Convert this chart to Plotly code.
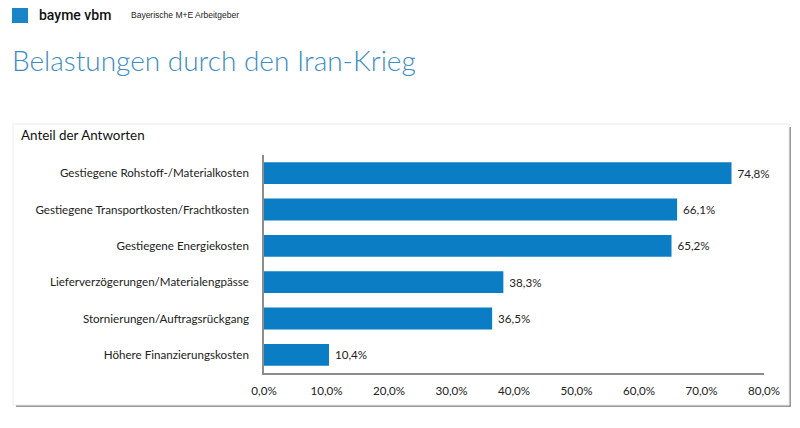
import plotly.graph_objects as go

categories = [
    "Gestiegene Rohstoff-/Materialkosten",
    "Gestiegene Transportkosten/Frachtkosten",
    "Gestiegene Energiekosten",
    "Lieferverzögerungen/Materialengpässe",
    "Stornierungen/Auftragsrückgang",
    "Höhere Finanzierungskosten",
]
values = [74.8, 66.1, 65.2, 38.3, 36.5, 10.4]
tick_values = [0, 10, 20, 30, 40, 50, 60, 70, 80]
tick_labels = [f"{v:.1f}%".replace(".", ",") for v in tick_values]

W, H = 800, 428
L, R, T, B = 264, 36, 155, 55
PW, PH = W - L - R, H - T - B

def px(x):
    return (x - L) / PW

def py(y):
    return (H - B - y) / PH

BAR = "#0b7dc5"
FONT = "Lato"

fig = go.Figure(go.Bar(
    x=values, y=categories, orientation="h",
    marker=dict(color=BAR, line=dict(width=0)),
    text=values, texttemplate=" %{x:.1f}%", textposition="outside",
    textfont=dict(family=FONT, size=11.6, color="#222"),
    cliponaxis=False,
))

shapes = [
    # shadow
    dict(type="rect", xref="paper", yref="paper", x0=px(16), x1=px(791), y0=py(127), y1=py(407),
         fillcolor="#9a9a9a", line=dict(width=0), layer="below"),
    dict(type="rect", xref="paper", yref="paper", x0=px(13), x1=px(789), y0=py(124), y1=py(405),
         fillcolor="white", line=dict(color="#ececec", width=1), layer="below"),
    # logo square
    dict(type="rect", xref="paper", yref="paper", x0=px(12), x1=px(28), y0=py(8), y1=py(23),
         fillcolor="#1a86c8", line=dict(width=0)),
]

annotations = [
    dict(text="bayme vbm", x=px(37), y=py(15), xref="paper", yref="paper", xanchor="left", yanchor="middle",
         showarrow=False, font=dict(family="Roboto", size=14, color="#111", weight=500)),
    dict(text="Bayerische M+E Arbeitgeber", x=px(129), y=py(15), xref="paper", yref="paper", xanchor="left",
         yanchor="middle", showarrow=False, font=dict(family="Liberation Sans", size=8.5, color="#222")),
    dict(text="Belastungen durch den Iran-Krieg", x=px(10), y=py(60), xref="paper", yref="paper",
         xanchor="left", yanchor="middle", showarrow=False,
         font=dict(family=FONT, size=28, color="#3d8dc2", weight=300)),
    dict(text="Anteil der Antworten", x=px(19), y=py(135), xref="paper", yref="paper", xanchor="left",
         yanchor="middle", showarrow=False, font=dict(family=FONT, size=13.4, color="#111")),
]

fig.update_layout(
    width=W, height=H,
    margin=dict(l=L, r=R, t=T, b=B, pad=0),
    paper_bgcolor="white", plot_bgcolor="white",
    separators=",.",
    showlegend=False,
    bargap=0.4,
    shapes=shapes,
    annotations=annotations,
    xaxis=dict(range=[0, 80], tickvals=tick_values, ticktext=tick_labels,
               showgrid=False, zeroline=False, showline=True, linecolor="#8c8c8c", linewidth=1.5,
               ticks="", tickfont=dict(family=FONT, size=11.6, color="#222"), ticklabelstandoff=6,
               fixedrange=True),
    yaxis=dict(autorange="reversed", showgrid=False, zeroline=False, showline=True,
               linecolor="#8c8c8c", linewidth=1.5, ticks="", ticklabelstandoff=11,
               tickfont=dict(family=FONT, size=11.6, color="#222")),
)

fig.write_html("out.html")
